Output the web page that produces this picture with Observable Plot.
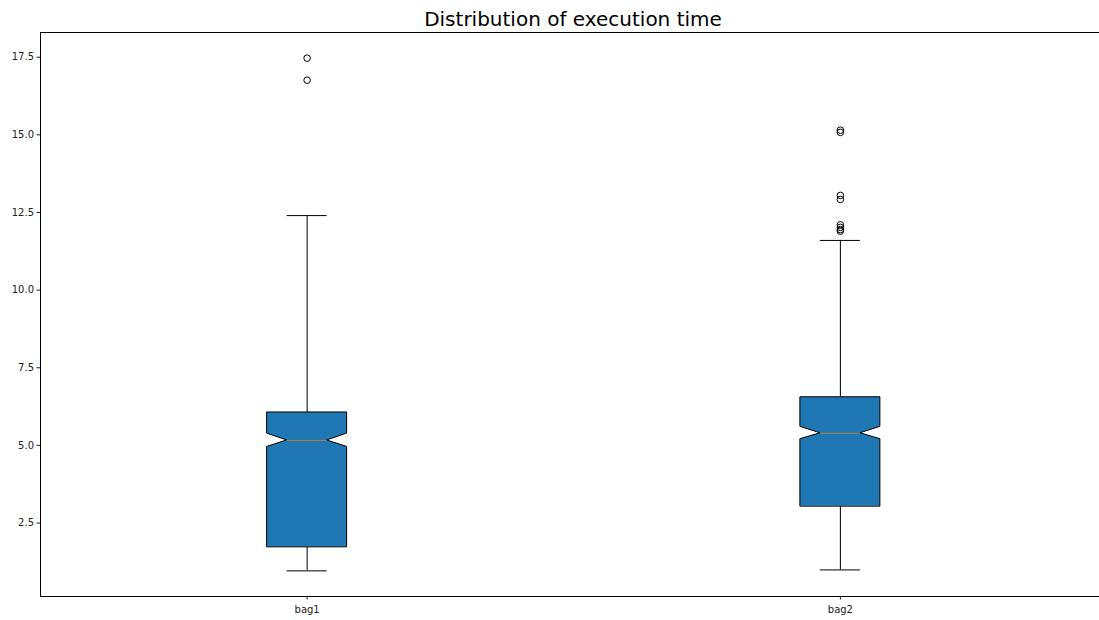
<!DOCTYPE html>
<html>
<head>
<meta charset="utf-8">
<script src="https://cdn.jsdelivr.net/npm/d3@7"></script>
<script src="https://cdn.jsdelivr.net/npm/@observablehq/plot@0.6"></script>
<style>
  html, body { margin: 0; padding: 0; background: #fff; }
  #title { width: 1146px; height: 32px; text-align: center; font-family: "DejaVu Sans", sans-serif; font-size: 20px; line-height: 38px; color: #000; white-space: nowrap; overflow: visible; }
  #chart svg { display: block; overflow: hidden; }
</style>
</head>
<body>
<div id="title">Distribution of execution time</div>
<div id="chart"></div>
<script>
// ---- data ----
const categories = ["bag1", "bag2"];
const whiskerLow  = [0.96, 0.99];
const q1          = [1.73, 3.04];
const median      = [5.16, 5.39];
const q3          = [6.06, 6.55];
const whiskerHigh = [12.40, 11.60];
const notchLow    = [4.95, 5.20];
const notchHigh   = [5.38, 5.60];
const outliers1   = [17.47, 16.76];
const outliers2   = [15.15, 15.08, 13.05, 12.92, 12.10, 12.02, 11.95, 11.90];

// ---- derived tables ----
const pos = categories.map((c, i) => i + 1);
const halfW = 0.075;  // box half-width (x units)
const boxRows = [];
categories.forEach((c, i) => {
  const p = pos[i];
  const pts = [
    [q1[i], halfW], [notchLow[i], halfW], [median[i], halfW / 2],
    [notchHigh[i], halfW], [q3[i], halfW]
  ];
  for (const [y, w] of pts) boxRows.push({cat: c, y, x1: p - w, x2: p + w});
});
const stats = categories.map((c, i) => ({
  cat: c, p: pos[i], lo: whiskerLow[i], q1: q1[i], med: median[i], q3: q3[i], hi: whiskerHigh[i]
}));
const outlierRows = [
  ...outliers1.map(v => ({p: pos[0], v})),
  ...outliers2.map(v => ({p: pos[1], v}))
];
const allVals = [...whiskerLow, ...whiskerHigh, ...outliers1, ...outliers2];
const vmin = d3.min(allVals), vmax = d3.max(allVals);
const pad = (vmax - vmin) * 0.05;
const yDomain = [vmin - pad, vmax + pad];
const xDomain = [0.5, 2.5];

const width = 1099, height = 588;
const marginLeft = 40, marginBottom = 24;
// full axes width would extend to 1106.5px; right part is cropped in the reference
const plotRight = 1106.5;

const chart = Plot.plot({
  width, height,
  marginLeft, marginBottom, marginTop: 0, marginRight: width - plotRight,
  style: {fontFamily: "DejaVu Sans, sans-serif", fontSize: "10px", color: "#222", background: "#fff"},
  x: {domain: xDomain, ticks: pos, tickFormat: d => categories[d - 1], label: null, tickSize: 3.5, tickPadding: 6},
  y: {domain: yDomain, ticks: d3.range(2.5, 17.6, 2.5), tickFormat: d3.format(".1f"), label: null, tickSize: 3.5, tickPadding: 3},
  marks: [
    // whiskers
    Plot.ruleX(stats, {x: "p", y1: "q3", y2: "hi", stroke: "#000", strokeWidth: 1}),
    Plot.ruleX(stats, {x: "p", y1: "lo", y2: "q1", stroke: "#000", strokeWidth: 1}),
    // caps
    Plot.ruleY(stats, {y: "hi", x1: d => d.p - halfW / 2, x2: d => d.p + halfW / 2, stroke: "#000", strokeWidth: 1}),
    Plot.ruleY(stats, {y: "lo", x1: d => d.p - halfW / 2, x2: d => d.p + halfW / 2, stroke: "#000", strokeWidth: 1}),
    // notched boxes
    Plot.areaX(boxRows, {y: "y", x1: "x1", x2: "x2", z: "cat", fill: "#1f77b4", stroke: "#000", strokeWidth: 1, curve: "linear"}),
    // median
    Plot.ruleY(stats, {y: "med", x1: d => d.p - halfW / 2, x2: d => d.p + halfW / 2, stroke: "#b5813f", strokeWidth: 1}),
    // outliers
    Plot.dot(outlierRows, {x: "p", y: "v", r: 3.3, stroke: "#000", fill: "none", strokeWidth: 1}),
    // spines (left, bottom, top; right is cropped)
    Plot.ruleX([xDomain[0]], {stroke: "#000", strokeWidth: 1}),
    Plot.ruleY([yDomain[0], yDomain[1]], {stroke: "#000", strokeWidth: 1})
  ]
});
document.getElementById("chart").appendChild(chart);
</script>
</body>
</html>
